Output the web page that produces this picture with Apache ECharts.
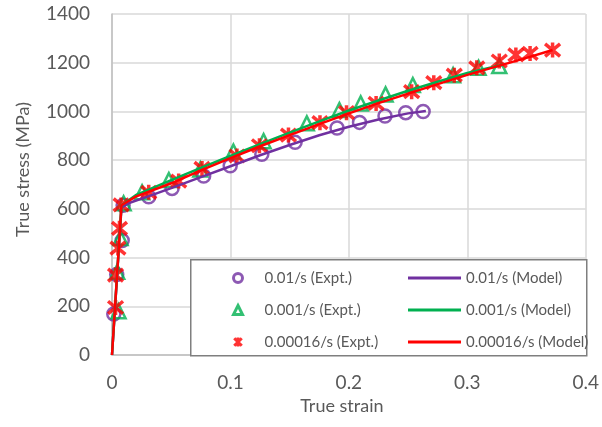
<!DOCTYPE html>
<html>
<head>
<meta charset="utf-8">
<script src="https://cdn.jsdelivr.net/npm/echarts@6/dist/echarts.min.js"></script>
<style>
  html, body { margin: 0; padding: 0; background: #fff; }
  #main { width: 602px; height: 427px; }
</style>
</head>
<body>
<div id="main"></div>
<script>
// tick labels
var xTicks = [0, 0.1, 0.2, 0.3, 0.4];
var yTicks = [0, 200, 400, 600, 800, 1000, 1200, 1400];

// experiments [strain, stress]
var expt001 = [[0.0015, 168], [0.004, 330], [0.0086, 470], [0.0094, 615], [0.031, 650],
  [0.0507, 684], [0.0774, 735], [0.0998, 777], [0.1265, 824], [0.1546, 873],
  [0.190, 932], [0.209, 955], [0.2305, 981], [0.248, 995], [0.2627, 1000]];
var expt0001 = [[0.0055, 180], [0.0044, 342], [0.0072, 480], [0.0098, 623], [0.0254, 668],
  [0.048, 718], [0.0746, 762], [0.1025, 835], [0.128, 878], [0.1645, 951],
  [0.192, 1006], [0.210, 1033], [0.231, 1070], [0.254, 1108], [0.288, 1149],
  [0.3095, 1179], [0.327, 1186]];
var expt000016 = [[0.003, 195], [0.003, 328], [0.005, 439], [0.0063, 520], [0.0077, 616],
  [0.031, 668], [0.0563, 714], [0.076, 766], [0.1055, 817], [0.1245, 859],
  [0.149, 903], [0.1756, 954], [0.198, 995], [0.223, 1033], [0.253, 1081],
  [0.2717, 1118], [0.289, 1149], [0.308, 1179], [0.327, 1207], [0.341, 1232],
  [0.353, 1238], [0.372, 1252]];

// model curves
var model001 = [[0, 0], [0.008, 605], [0.015, 625], [0.03, 650], [0.05, 685], [0.075, 730],
  [0.1, 775], [0.125, 820], [0.15, 862], [0.175, 902], [0.2, 937], [0.225, 967],
  [0.25, 992], [0.265, 1002]];
var model0001 = [[0, 0], [0.008, 615], [0.02, 656], [0.05, 718], [0.075, 768], [0.1, 817],
  [0.125, 866], [0.15, 913], [0.175, 959], [0.2, 1004], [0.225, 1045], [0.25, 1085],
  [0.275, 1122], [0.3, 1158], [0.33, 1192]];
var model000016 = [[0, 0], [0.008, 615], [0.02, 650], [0.05, 705], [0.075, 758], [0.1, 808],
  [0.125, 857], [0.15, 903], [0.175, 948], [0.2, 992], [0.225, 1034], [0.25, 1073],
  [0.275, 1112], [0.3, 1150], [0.325, 1185], [0.35, 1220], [0.372, 1252]];

var purple = '#7030A0', green = '#00B050', red = '#FF0000';
var starPath = 'path://M0,0L10,10M10,0L0,10M5,-1L5,11';
var font = 'Lato, "Open Sans", sans-serif';

var chart = echarts.init(document.getElementById('main'));

var legendText = { fontSize: 15, color: '#595959', lineHeight: 20 };

var option = {
  animation: false,
  textStyle: { fontFamily: font, color: '#595959' },
  grid: { left: 112, right: 16, top: 14, bottom: 72, containLabel: false },
  xAxis: {
    type: 'value', min: 0, max: 0.4, interval: 0.1,
    name: 'True strain', nameLocation: 'middle', nameGap: 42,
    nameTextStyle: { fontSize: 18, color: '#595959', padding: [0, 14, 0, 0] },
    axisLine: { show: true, lineStyle: { color: '#bfbfbf', width: 1.5 } },
    axisTick: { show: false },
    axisLabel: { fontSize: 19, color: '#595959', margin: 18,
      formatter: function (v) { return xTicks.indexOf(+v.toFixed(1)) >= 0 ? String(+v.toFixed(1)) : ''; } },
    splitLine: { show: true, lineStyle: { color: '#d9d9d9', width: 1.5 } }
  },
  yAxis: {
    type: 'value', min: 0, max: 1400, interval: 200,
    name: 'True stress (MPa)', nameLocation: 'middle', nameGap: 80,
    nameTextStyle: { fontSize: 18, color: '#595959', padding: [0, 0, 0, 30] },
    axisLine: { show: true, lineStyle: { color: '#bfbfbf', width: 1.5 } },
    axisTick: { show: false },
    axisLabel: { fontSize: 19, color: '#595959', margin: 22,
      formatter: function (v) { return yTicks.indexOf(v) >= 0 ? String(v) : ''; } },
    splitLine: { show: true, lineStyle: { color: '#d9d9d9', width: 1.5 } }
  },
  legend: [
    {
      orient: 'vertical', left: 227, top: 263, itemWidth: 9, itemHeight: 9, itemGap: 12,
      textStyle: Object.assign({ padding: [0, 0, 0, 17] }, legendText),
      itemStyle: { borderWidth: 3 },
      data: [
        { name: '0.01/s (Expt.)', icon: 'circle' },
        { name: '0.001/s (Expt.)', icon: 'triangle' },
        { name: '0.00016/s (Expt.)', icon: starPath }
      ],
      z: 10
    },
    {
      orient: 'vertical', left: 403, top: 263, itemWidth: 53, itemHeight: 3, itemGap: 12,
      textStyle: legendText,
      data: [
        { name: '0.01/s (Model)', icon: 'rect' },
        { name: '0.001/s (Model)', icon: 'rect' },
        { name: '0.00016/s (Model)', icon: 'rect' }
      ],
      z: 10
    }
  ],
  graphic: [{
    type: 'rect', left: 190, top: 259, z: 8,
    shape: { width: 396, height: 96 },
    style: { fill: '#fff', stroke: '#7f7f7f', lineWidth: 1.5 }
  }],
  series: [
    { name: '0.01/s (Expt.)', type: 'scatter', data: expt001, symbol: 'circle', symbolSize: 13,
      itemStyle: { color: 'rgba(0,0,0,0)', borderColor: purple, borderWidth: 2.5 } },
    { name: '0.01/s (Model)', type: 'line', data: model001, symbol: 'none',
      lineStyle: { color: purple, width: 2.5 }, itemStyle: { color: purple } },
    { name: '0.001/s (Expt.)', type: 'scatter', data: expt0001, symbol: 'triangle', symbolSize: 14,
      itemStyle: { color: 'rgba(0,0,0,0)', borderColor: green, borderWidth: 2.5 } },
    { name: '0.001/s (Model)', type: 'line', data: model0001, symbol: 'none',
      lineStyle: { color: green, width: 2.5 }, itemStyle: { color: green } },
    { name: '0.00016/s (Expt.)', type: 'scatter', data: expt000016, symbol: starPath, symbolSize: 15,
      itemStyle: { color: 'rgba(0,0,0,0)', borderColor: red, borderWidth: 3.5 } },
    { name: '0.00016/s (Model)', type: 'line', data: model000016, symbol: 'none',
      lineStyle: { color: red, width: 2.5 }, itemStyle: { color: red } }
  ]
};

chart.setOption(option);
</script>
</body>
</html>
